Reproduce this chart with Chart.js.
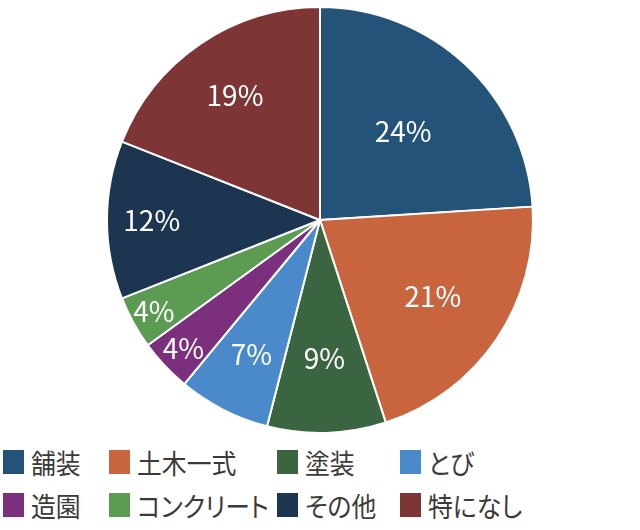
<!DOCTYPE html>
<html lang="ja">
<head>
<meta charset="utf-8">
<script src="https://cdn.jsdelivr.net/npm/chart.js@4"></script>
<style>
  body { margin: 0; background: #fff; width: 640px; height: 530px; overflow: hidden; position: relative; }
  #wrap { position: absolute; left: 0; top: 0; width: 640px; height: 440px; }
  #legend { position: absolute; left: 0; top: 440px; width: 640px; font-family: "Noto Sans CJK JP", sans-serif; font-size: 27px; color: #3a3a3a; font-feature-settings: "palt" 1; }
  .item { position: absolute; display: flex; align-items: center; white-space: nowrap; height: 34px; }
  .box { width: 21px; height: 24px; margin-right: 7px; flex: none; }
  .txt { display: inline-block; transform: scaleX(0.92); transform-origin: left center; }
</style>
</head>
<body>
<div id="wrap"><canvas id="chartPie"></canvas></div>
<div id="legend"></div>
<script>
const labels = ["舗装", "土木一式", "塗装", "とび", "造園", "コンクリート", "その他", "特になし"];
const values = [24, 21, 9, 7, 4, 4, 12, 19];
const colors = ["#235378", "#C8653E", "#3B6541", "#4A8ACA", "#7B2F7D", "#5C9B52", "#1C3550", "#7D3535"];

// jarak label dari pusat (fraksi radius), per irisan
const labelRadius = [0.57, 0.64, 0.65, 0.71, 0.88, 0.89, 0.79, 0.71];

const pctLabels = {
  id: "pctLabels",
  afterDatasetsDraw(chart) {
    const ctx = chart.ctx;
    const meta = chart.getDatasetMeta(0);
    ctx.save();
    ctx.fillStyle = "#fff";
    ctx.font = '28px "Noto Sans CJK JP", sans-serif';
    ctx.textAlign = "center";
    ctx.textBaseline = "middle";
    meta.data.forEach((arc, i) => {
      const mid = (arc.startAngle + arc.endAngle) / 2;
      const r = arc.outerRadius * labelRadius[i];
      const x = arc.x + Math.cos(mid) * r;
      const y = arc.y + Math.sin(mid) * r;
      ctx.fillText(values[i] + "%", x, y);
    });
    ctx.restore();
  },
};

new Chart(document.getElementById("chartPie"), {
  type: "pie",
  data: {
    labels: labels,
    datasets: [{
      data: values,
      backgroundColor: colors,
      borderColor: "#fff",
      borderWidth: 2,
    }],
  },
  options: {
    responsive: true,
    maintainAspectRatio: false,
    animation: false,
    layout: { padding: { top: 6, bottom: 6 } },
    plugins: {
      legend: { display: false },
      tooltip: { enabled: false },
    },
  },
  plugins: [pctLabels],
});

// Legend HTML (2 baris x 4 kolom)
const colX = [3, 109, 277, 400];
const rowY = [5, 48];
const legendEl = document.getElementById("legend");
labels.forEach((name, i) => {
  const div = document.createElement("div");
  div.className = "item";
  div.style.left = colX[i % 4] + "px";
  div.style.top = rowY[Math.floor(i / 4)] + "px";
  div.innerHTML = `<span class="box" style="background:${colors[i]}"></span><span class="txt">${name}</span>`;
  legendEl.appendChild(div);
});
</script>
</body>
</html>
